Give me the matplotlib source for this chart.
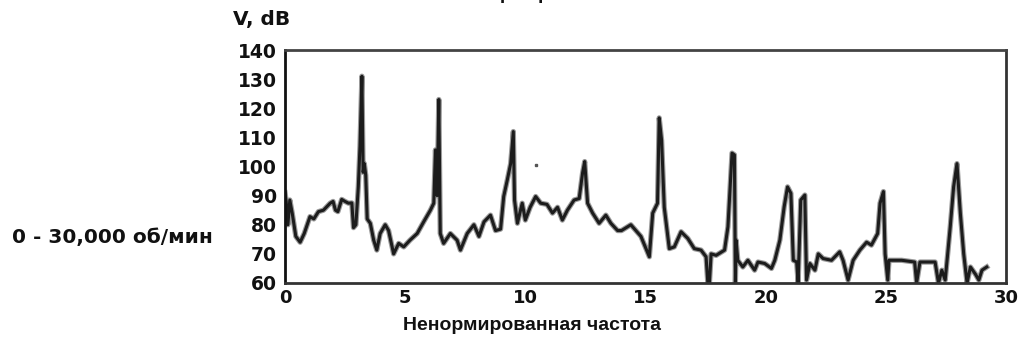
import matplotlib
matplotlib.use("Agg")
import matplotlib.pyplot as plt
import matplotlib.patheffects as pe

# ---- data ----
freq = [0.0, 0.05, 0.12, 0.2, 0.3, 0.45, 0.63, 0.8, 1.04, 1.2, 1.39, 1.6, 1.88, 2.0, 2.1, 2.2,
        2.36, 2.5, 2.64, 2.78, 2.85, 2.95, 3.05, 3.12, 3.2, 3.25, 3.3, 3.36, 3.42, 3.55, 3.69,
        3.82, 3.96, 4.17, 4.31, 4.52, 4.73, 4.94, 5.2, 5.5, 5.77, 6.05, 6.19, 6.26, 6.33, 6.4,
        6.46, 6.6, 6.88, 7.16, 7.3, 7.58, 7.86, 8.07, 8.28, 8.55, 8.76, 8.97, 9.1, 9.25, 9.39,
        9.5, 9.55, 9.67, 9.87, 10.0, 10.2, 10.43, 10.64, 10.9, 11.13, 11.34, 11.54, 11.75,
        12.03, 12.24, 12.38, 12.47, 12.59, 12.8, 13.07, 13.35, 13.56, 13.84, 14.0, 14.39,
        14.81, 15.16, 15.3, 15.5, 15.57, 15.67, 15.78, 15.99, 16.2, 16.48, 16.76, 17.03,
        17.31, 17.52, 17.59, 17.66, 17.73, 17.94, 18.29, 18.43, 18.6, 18.7, 18.74, 18.77,
        18.84, 19.05, 19.26, 19.54, 19.68, 19.96, 20.24, 20.38, 20.59, 20.77, 20.91, 21.05,
        21.15, 21.29, 21.35, 21.46, 21.63, 21.7, 21.84, 22.05, 22.19, 22.39, 22.74, 23.08,
        23.22, 23.43, 23.64, 23.92, 24.2, 24.4, 24.66, 24.76, 24.9, 24.97, 25.08, 25.13,
        25.66, 26.2, 26.28, 26.42, 27.05, 27.19, 27.33, 27.47, 27.68, 27.82, 27.96, 28.1,
        28.24, 28.38, 28.52, 28.73, 28.87, 29.0, 29.2]
level_db = [91, 88, 80, 88.5, 84, 76, 74, 77, 82.8, 82, 84.5, 85, 87.4, 88, 85, 84.5,
            88.7, 88, 87.4, 87.5, 79, 80, 93, 107, 131, 98, 101, 97, 82, 80.5, 74.7,
            71.3, 77, 80, 78, 70, 73.6, 72.4, 74.7, 77, 81, 85, 87.4, 105.7, 90, 123,
            77, 73.6, 77, 74.7, 71.3, 77, 80, 76, 81, 83.3, 78, 78.5, 89.7, 95.4, 101,
            112, 88.5, 80.5, 87.4, 81.6, 86, 89.7, 87.4, 87, 84, 86, 81.6, 85,
            88.5, 89, 97.7, 101.7, 87.4, 84, 80.5, 83.3, 80.5, 78, 78, 80,
            76, 69, 84, 87.4, 116.7, 109, 86, 71.8, 72.4, 77.6, 75.3, 71.8,
            71.3, 69, 60.3, 60, 70, 69.5, 71.3, 79.3, 104.6, 104, 60, 74.7,
            67.8, 65.5, 67.8, 64.4, 67.2, 66.7, 65, 67.8, 74.7, 86.2, 93, 90.8,
            67.8, 67.2, 60, 88.5, 90.2, 61, 66.7, 64.4, 70, 68.4, 67.8, 70.7,
            67.8, 61, 67.8, 71.3, 74, 73, 77, 87.4, 91.4, 70, 61, 67.8,
            67.8, 67.2, 60, 67.2, 67.2, 60, 64.4, 61, 79.3, 93, 101, 84,
            70, 60, 65.5, 63, 61, 64.4, 65.5]
stray_freq = [10.43]
stray_db = [100.6]

x_ticks = [0, 5, 10, 15, 20, 25, 30]
y_ticks = [60, 70, 80, 90, 100, 110, 120, 130, 140]

title_text = "Нормированная частота"
xlabel_text = "Ненормированная частота"
ylabel_text = "V, dB"
side_text = "0 - 30,000 об/мин"

# ---- figure ----
W, H = 1021, 344
fig = plt.figure(figsize=(W / 100, H / 100), dpi=100)
ax = fig.add_axes([285 / W, 1 - 283 / H, (1006 - 285) / W, (283 - 50) / H])

ax.plot(freq, level_db, color="#1c1c1c", lw=2.2, solid_joinstyle="round",
        path_effects=[pe.Stroke(linewidth=3.8, foreground="#9a9a9a"), pe.Normal()])
ax.plot(stray_freq, stray_db, "s", color="#555555", ms=1.5)

ax.set_xlim(0, 30)
ax.set_ylim(60, 140)
ax.set_xticks(x_ticks)
ax.set_yticks(y_ticks)

font = dict(family="DejaVu Sans", weight="bold")
ax.set_xticklabels([str(v) for v in x_ticks], fontsize=13, **font)
ax.set_yticklabels([str(v) for v in y_ticks], fontsize=13.5, **font)
ax.tick_params(axis="both", length=0, colors="#111111")
ax.tick_params(axis="y", pad=6)
ax.tick_params(axis="x", pad=4)

ax.spines["left"].set_color("#111111")
ax.spines["left"].set_linewidth(2)
ax.spines["bottom"].set_color("#333333")
ax.spines["bottom"].set_linewidth(2)
ax.spines["top"].set_color("#444444")
ax.spines["top"].set_linewidth(2)
ax.spines["right"].set_color("#333333")
ax.spines["right"].set_linewidth(2)

fig.text(233 / W, 1 - 20 / H, ylabel_text, ha="left", va="center", fontsize=14.5, color="#111111", **font)
fig.text(12 / W, 1 - 237 / H, side_text, ha="left", va="center", fontsize=14.5, color="#111111", **font)
fig.text(532 / W, 1 - 326 / H, xlabel_text, ha="center", va="center", fontsize=14,
         color="#111111", family="Liberation Sans", weight="bold")
fig.text(592 / W, 1 + 1 / H, title_text, ha="center", va="baseline", fontsize=14,
         color="#111111", family="Liberation Sans", weight="bold")

fig.savefig("out.png", dpi=100)
